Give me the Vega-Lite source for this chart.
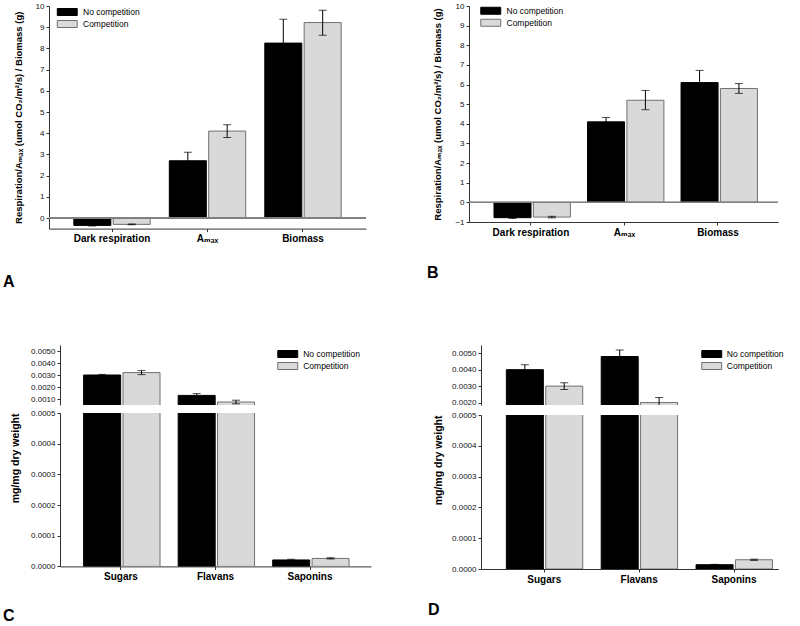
{
  "$schema": "https://vega.github.io/schema/vega-lite/v6.json",
  "padding": {"left": 3, "top": 2, "right": 5, "bottom": 5},
  "datasets": {
    "A": [
      {"cat": "Dark respiration", "group": "No competition", "value": -0.35, "lo": -0.38, "hi": -0.32},
      {"cat": "Dark respiration", "group": "Competition", "value": -0.3, "lo": -0.32, "hi": -0.28},
      {"cat": "Aₘₐₓ", "group": "No competition", "value": 2.7, "lo": 2.3, "hi": 3.1},
      {"cat": "Aₘₐₓ", "group": "Competition", "value": 4.1, "lo": 3.8, "hi": 4.4},
      {"cat": "Biomass", "group": "No competition", "value": 8.25, "lo": 7.13, "hi": 9.37},
      {"cat": "Biomass", "group": "Competition", "value": 9.22, "lo": 8.62, "hi": 9.8}
    ],
    "B": [
      {"cat": "Dark respiration", "group": "No competition", "value": -0.78, "lo": -0.82, "hi": -0.74},
      {"cat": "Dark respiration", "group": "Competition", "value": -0.75, "lo": -0.79, "hi": -0.71},
      {"cat": "Aₘₐₓ", "group": "No competition", "value": 4.1, "lo": 3.88, "hi": 4.32},
      {"cat": "Aₘₐₓ", "group": "Competition", "value": 5.2, "lo": 4.72, "hi": 5.7},
      {"cat": "Biomass", "group": "No competition", "value": 6.1, "lo": 5.48, "hi": 6.72},
      {"cat": "Biomass", "group": "Competition", "value": 5.8, "lo": 5.55, "hi": 6.05}
    ],
    "C": [
      {"cat": "Sugars", "group": "No competition", "value": 0.003, "lo": 0.00295, "hi": 0.00305},
      {"cat": "Sugars", "group": "Competition", "value": 0.0032, "lo": 0.00303, "hi": 0.00337},
      {"cat": "Flavans", "group": "No competition", "value": 0.0013, "lo": 0.00115, "hi": 0.00145},
      {"cat": "Flavans", "group": "Competition", "value": 0.00075, "lo": 0.0006, "hi": 0.0009},
      {"cat": "Saponins", "group": "No competition", "value": 0.000021, "lo": 0.000019, "hi": 0.000023},
      {"cat": "Saponins", "group": "Competition", "value": 0.000026, "lo": 0.000024, "hi": 0.000028}
    ],
    "D": [
      {"cat": "Sugars", "group": "No competition", "value": 0.004, "lo": 0.0037, "hi": 0.0043},
      {"cat": "Sugars", "group": "Competition", "value": 0.003, "lo": 0.0028, "hi": 0.0032},
      {"cat": "Flavans", "group": "No competition", "value": 0.0048, "lo": 0.0044, "hi": 0.0052},
      {"cat": "Flavans", "group": "Competition", "value": 0.002, "lo": 0.0017, "hi": 0.0023},
      {"cat": "Saponins", "group": "No competition", "value": 0.000014, "lo": 0.000013, "hi": 0.000015},
      {"cat": "Saponins", "group": "Competition", "value": 0.00003, "lo": 0.000028, "hi": 0.000032}
    ]
  },
  "columns": 1,
  "spacing": 52,
  "resolve": {"scale": {"fill": "independent", "stroke": "independent"}, "legend": {"fill": "independent", "stroke": "independent"}},
  "concat": [
    {
      "spacing": 60,
      "resolve": {"scale": {"fill": "independent", "stroke": "independent"}, "legend": {"fill": "independent", "stroke": "independent"}},
      "hconcat": [
        {
          "width": 317, "height": 222.6,
          "data": {"name": "A"},
          "title": {"text": "A", "orient": "bottom", "anchor": "start", "frame": "group", "align": "left", "dx": -46, "offset": 30, "fontSize": 16, "fontWeight": "bold", "color": "#000"},
          "layer": [
            {"mark": {"type": "bar", "strokeWidth": 1, "clip": true},
             "encoding": {
               "x": {"field": "cat", "type": "nominal", "sort": null, "title": null, "scale": {"paddingInner": 0.2, "paddingOuter": 0.26, "align": 0.5}, "axis": {"labelAngle": 0, "labelFontSize": 10, "labelFontWeight": "bold", "labelColor": "#000", "tickSize": 3, "labelPadding": 2}},
               "xOffset": {"field": "group", "type": "nominal", "sort": ["No competition", "Competition"], "scale": {"paddingInner": 0.06, "paddingOuter": 0}},
               "y": {"field": "value", "type": "quantitative", "scale": {"domain": [-0.5, 10], "nice": false, "zero": false}, "axis": {"values": [0,1,2,3,4,5,6,7,8,9,10], "format": "d", "tickCount": 30, "labelOverlap": false, "title": "Respiration/Aₘₐₓ (umol CO₂/m²/s) / Biomass (g)", "titleFontSize": 9.5, "titleFontWeight": "bold", "titlePadding": 12, "labelFontSize": 8}},
               "y2": {"datum": 0},
               "fill": {"field": "group", "type": "nominal", "scale": {"domain": ["No competition", "Competition"], "range": ["#000000", "#d9d9d9"]}, "legend": {"orient": "none", "legendX": 14, "legendY": 1.75, "title": null, "symbolType": "M-2.85,-1H2.85V1H-2.85Z", "symbolSize": 49, "labelOffset": 11.5, "rowPadding": 0, "padding": 0}},
               "stroke": {"field": "group", "type": "nominal", "scale": {"domain": ["No competition", "Competition"], "range": ["#000000", "#707070"]}, "legend": {"orient": "none", "legendX": 14, "legendY": 1.75, "title": null, "symbolType": "M-2.85,-1H2.85V1H-2.85Z", "symbolSize": 49, "labelOffset": 11.5, "rowPadding": 0, "padding": 0}}
             }},
            {"mark": {"type": "rule", "color": "#000", "strokeWidth": 1, "clip": true},
             "encoding": {
               "x": {"field": "cat", "type": "nominal", "sort": null},
               "xOffset": {"field": "group", "type": "nominal", "sort": ["No competition", "Competition"]},
               "y": {"field": "lo", "type": "quantitative"}, "y2": {"field": "hi"}}},
            {"mark": {"type": "tick", "color": "#000", "size": 8, "thickness": 1, "clip": true},
             "encoding": {
               "x": {"field": "cat", "type": "nominal", "sort": null},
               "xOffset": {"field": "group", "type": "nominal", "sort": ["No competition", "Competition"]},
               "y": {"field": "hi", "type": "quantitative"}}},
            {"mark": {"type": "tick", "color": "#000", "size": 8, "thickness": 1, "clip": true},
             "encoding": {
               "x": {"field": "cat", "type": "nominal", "sort": null},
               "xOffset": {"field": "group", "type": "nominal", "sort": ["No competition", "Competition"]},
               "y": {"field": "lo", "type": "quantitative"}}},
            {"mark": {"type": "rule", "color": "#808080", "strokeWidth": 1}, "encoding": {"y": {"datum": 0}}}
          ]
        },
        {
          "width": 309, "height": 216,
          "data": {"name": "B"},
          "title": {"text": "B", "orient": "bottom", "anchor": "start", "frame": "group", "align": "left", "dx": -42, "offset": 28, "fontSize": 16, "fontWeight": "bold", "color": "#000"},
          "layer": [
            {"mark": {"type": "bar", "strokeWidth": 1, "clip": true},
             "encoding": {
               "x": {"field": "cat", "type": "nominal", "sort": null, "title": null, "scale": {"paddingInner": 0.21, "paddingOuter": 0.257, "align": 0.52}, "axis": {"labelAngle": 0, "labelFontSize": 10, "labelFontWeight": "bold", "labelColor": "#000", "tickSize": 3, "labelPadding": 2}},
               "xOffset": {"field": "group", "type": "nominal", "sort": ["No competition", "Competition"], "scale": {"paddingInner": 0.06, "paddingOuter": 0}},
               "y": {"field": "value", "type": "quantitative", "scale": {"domain": [-1, 10], "nice": false, "zero": false}, "axis": {"values": [-1,0,1,2,3,4,5,6,7,8,9,10], "format": "d", "tickCount": 30, "labelOverlap": false, "title": "Respiration/Aₘₐₓ (umol CO₂/m²/s) / Biomass (g)", "titleFontSize": 9.5, "titleFontWeight": "bold", "titlePadding": 12, "labelFontSize": 8}},
               "y2": {"datum": 0},
               "fill": {"field": "group", "type": "nominal", "scale": {"domain": ["No competition", "Competition"], "range": ["#000000", "#d9d9d9"]}, "legend": {"orient": "none", "legendX": 17.5, "legendY": 0.5, "title": null, "symbolType": "M-2.85,-1H2.85V1H-2.85Z", "symbolSize": 49, "labelOffset": 11.5, "rowPadding": 0, "padding": 0}},
               "stroke": {"field": "group", "type": "nominal", "scale": {"domain": ["No competition", "Competition"], "range": ["#000000", "#707070"]}, "legend": {"orient": "none", "legendX": 17.5, "legendY": 0.5, "title": null, "symbolType": "M-2.85,-1H2.85V1H-2.85Z", "symbolSize": 49, "labelOffset": 11.5, "rowPadding": 0, "padding": 0}}
             }},
            {"mark": {"type": "rule", "color": "#000", "strokeWidth": 1, "clip": true},
             "encoding": {
               "x": {"field": "cat", "type": "nominal", "sort": null},
               "xOffset": {"field": "group", "type": "nominal", "sort": ["No competition", "Competition"]},
               "y": {"field": "lo", "type": "quantitative"}, "y2": {"field": "hi"}}},
            {"mark": {"type": "tick", "color": "#000", "size": 8, "thickness": 1, "clip": true},
             "encoding": {
               "x": {"field": "cat", "type": "nominal", "sort": null},
               "xOffset": {"field": "group", "type": "nominal", "sort": ["No competition", "Competition"]},
               "y": {"field": "hi", "type": "quantitative"}}},
            {"mark": {"type": "tick", "color": "#000", "size": 8, "thickness": 1, "clip": true},
             "encoding": {
               "x": {"field": "cat", "type": "nominal", "sort": null},
               "xOffset": {"field": "group", "type": "nominal", "sort": ["No competition", "Competition"]},
               "y": {"field": "lo", "type": "quantitative"}}},
            {"mark": {"type": "rule", "color": "#808080", "strokeWidth": 1}, "encoding": {"y": {"datum": 0}}}
          ]
        }
      ]
    },
    {
      "bounds": "flush",
      "spacing": 0,
      "resolve": {"scale": {"fill": "independent", "stroke": "independent"}, "legend": {"fill": "independent", "stroke": "independent"}},
      "hconcat": [
        {"width": 11, "height": 1, "data": {"values": [{"k": 1}]}, "mark": {"type": "point", "opacity": 0}, "encoding": {}},
        {
          "spacing": 57,
          "resolve": {"scale": {"fill": "independent", "stroke": "independent"}, "legend": {"fill": "independent", "stroke": "independent"}},
          "hconcat": [
            {
              "spacing": 4,
              "resolve": {"scale": {"fill": "independent", "stroke": "independent"}, "legend": {"fill": "independent", "stroke": "independent"}},
              "vconcat": [
                {
                  "width": 311, "height": 60,
                  "data": {"name": "C"},
                  "layer": [
                    {"mark": {"type": "bar", "strokeWidth": 1, "clip": true},
                     "encoding": {
                       "x": {"field": "cat", "type": "nominal", "sort": null, "title": null, "scale": {"paddingInner": 0.21, "paddingOuter": 0.25, "align": 0.5}, "axis": null},
                       "xOffset": {"field": "group", "type": "nominal", "sort": ["No competition", "Competition"], "scale": {"paddingInner": 0.06, "paddingOuter": 0}},
                       "y": {"field": "value", "type": "quantitative", "scale": {"domain": [0.0005, 0.0055], "nice": false, "zero": false}, "axis": {"values": [0.001, 0.002, 0.003, 0.004, 0.005], "tickCount": 30, "labelOverlap": false, "format": ".4f", "title": null, "labelFontSize": 8}},
                       "y2": {"datum": 0},
                       "fill": {"field": "group", "type": "nominal", "scale": {"domain": ["No competition", "Competition"], "range": ["#000000", "#d9d9d9"]}, "legend": {"orient": "none", "legendX": 223.5, "legendY": 4.75, "title": null, "symbolType": "M-2.85,-1H2.85V1H-2.85Z", "symbolSize": 49, "labelOffset": 11.2, "rowPadding": 0, "padding": 0}},
                       "stroke": {"field": "group", "type": "nominal", "scale": {"domain": ["No competition", "Competition"], "range": ["#000000", "#707070"]}, "legend": {"orient": "none", "legendX": 223.5, "legendY": 4.75, "title": null, "symbolType": "M-2.85,-1H2.85V1H-2.85Z", "symbolSize": 49, "labelOffset": 11.2, "rowPadding": 0, "padding": 0}}
                     }},
                    {"mark": {"type": "rule", "color": "#000", "strokeWidth": 1, "clip": true},
                     "encoding": {
                       "x": {"field": "cat", "type": "nominal", "sort": null},
                       "xOffset": {"field": "group", "type": "nominal", "sort": ["No competition", "Competition"]},
                       "y": {"field": "lo", "type": "quantitative"}, "y2": {"field": "hi"}}},
                    {"mark": {"type": "tick", "color": "#000", "size": 8, "thickness": 1, "clip": true},
                     "encoding": {
                       "x": {"field": "cat", "type": "nominal", "sort": null},
                       "xOffset": {"field": "group", "type": "nominal", "sort": ["No competition", "Competition"]},
                       "y": {"field": "hi", "type": "quantitative"}}},
                    {"mark": {"type": "tick", "color": "#000", "size": 8, "thickness": 1, "clip": true},
                     "encoding": {
                       "x": {"field": "cat", "type": "nominal", "sort": null},
                       "xOffset": {"field": "group", "type": "nominal", "sort": ["No competition", "Competition"]},
                       "y": {"field": "lo", "type": "quantitative"}}}
                  ]
                },
                {
                  "width": 311, "height": 153.4,
                  "data": {"name": "C"},
                  "title": {"text": "C", "orient": "bottom", "anchor": "start", "frame": "group", "align": "left", "dx": -57, "offset": 27, "fontSize": 16, "fontWeight": "bold", "color": "#000"},
                  "layer": [
                    {"mark": {"type": "bar", "strokeWidth": 1, "clip": true},
                     "encoding": {
                       "x": {"field": "cat", "type": "nominal", "sort": null, "title": null, "scale": {"paddingInner": 0.21, "paddingOuter": 0.25, "align": 0.5}, "axis": {"labelAngle": 0, "labelFontSize": 10, "labelFontWeight": "bold", "labelColor": "#000", "tickSize": 3, "labelPadding": 2}},
                       "xOffset": {"field": "group", "type": "nominal", "sort": ["No competition", "Competition"], "scale": {"paddingInner": 0.06, "paddingOuter": 0}},
                       "y": {"field": "value", "type": "quantitative", "scale": {"domain": [0, 0.0005], "nice": false, "zero": false}, "axis": {"values": [0, 0.0001, 0.0002, 0.0003, 0.0004, 0.0005], "tickCount": 30, "labelOverlap": false, "format": ".4f", "title": "mg/mg dry weight", "titleAnchor": "end", "titleFontSize": 10.5, "titleFontWeight": "bold", "titlePadding": 10, "labelFontSize": 8}},
                       "y2": {"datum": 0},
                       "fill": {"field": "group", "type": "nominal", "scale": {"domain": ["No competition", "Competition"], "range": ["#000000", "#d9d9d9"]}, "legend": null},
                       "stroke": {"field": "group", "type": "nominal", "scale": {"domain": ["No competition", "Competition"], "range": ["#000000", "#707070"]}, "legend": null}
                     }},
                    {"mark": {"type": "rule", "color": "#000", "strokeWidth": 1, "clip": true},
                     "encoding": {
                       "x": {"field": "cat", "type": "nominal", "sort": null},
                       "xOffset": {"field": "group", "type": "nominal", "sort": ["No competition", "Competition"]},
                       "y": {"field": "lo", "type": "quantitative"}, "y2": {"field": "hi"}}},
                    {"mark": {"type": "tick", "color": "#000", "size": 8, "thickness": 1, "clip": true},
                     "encoding": {
                       "x": {"field": "cat", "type": "nominal", "sort": null},
                       "xOffset": {"field": "group", "type": "nominal", "sort": ["No competition", "Competition"]},
                       "y": {"field": "hi", "type": "quantitative"}}},
                    {"mark": {"type": "tick", "color": "#000", "size": 8, "thickness": 1, "clip": true},
                     "encoding": {
                       "x": {"field": "cat", "type": "nominal", "sort": null},
                       "xOffset": {"field": "group", "type": "nominal", "sort": ["No competition", "Competition"]},
                       "y": {"field": "lo", "type": "quantitative"}}}
                  ]
                }
              ]
            },
            {
              "spacing": 4,
              "resolve": {"scale": {"fill": "independent", "stroke": "independent"}, "legend": {"fill": "independent", "stroke": "independent"}},
              "vconcat": [
                {
                  "width": 297.3, "height": 60,
                  "data": {"name": "D"},
                  "layer": [
                    {"mark": {"type": "bar", "strokeWidth": 1, "clip": true},
                     "encoding": {
                       "x": {"field": "cat", "type": "nominal", "sort": null, "title": null, "scale": {"paddingInner": 0.2, "paddingOuter": 0.167, "align": 0.8}, "axis": null},
                       "xOffset": {"field": "group", "type": "nominal", "sort": ["No competition", "Competition"], "scale": {"paddingInner": 0.06, "paddingOuter": 0}},
                       "y": {"field": "value", "type": "quantitative", "scale": {"domain": [0.00185, 0.0055], "nice": false, "zero": false}, "axis": {"values": [0.002, 0.003, 0.004, 0.005], "tickCount": 30, "labelOverlap": false, "format": ".4f", "title": null, "labelFontSize": 8}},
                       "y2": {"datum": 0},
                       "fill": {"field": "group", "type": "nominal", "scale": {"domain": ["No competition", "Competition"], "range": ["#000000", "#d9d9d9"]}, "legend": {"orient": "none", "legendX": 226.5, "legendY": 4.75, "title": null, "symbolType": "M-2.85,-1H2.85V1H-2.85Z", "symbolSize": 49, "labelOffset": 10.8, "rowPadding": 0, "padding": 0}},
                       "stroke": {"field": "group", "type": "nominal", "scale": {"domain": ["No competition", "Competition"], "range": ["#000000", "#707070"]}, "legend": {"orient": "none", "legendX": 226.5, "legendY": 4.75, "title": null, "symbolType": "M-2.85,-1H2.85V1H-2.85Z", "symbolSize": 49, "labelOffset": 10.8, "rowPadding": 0, "padding": 0}}
                     }},
                    {"mark": {"type": "rule", "color": "#000", "strokeWidth": 1, "clip": true},
                     "encoding": {
                       "x": {"field": "cat", "type": "nominal", "sort": null},
                       "xOffset": {"field": "group", "type": "nominal", "sort": ["No competition", "Competition"]},
                       "y": {"field": "lo", "type": "quantitative"}, "y2": {"field": "hi"}}},
                    {"mark": {"type": "tick", "color": "#000", "size": 8, "thickness": 1, "clip": true},
                     "encoding": {
                       "x": {"field": "cat", "type": "nominal", "sort": null},
                       "xOffset": {"field": "group", "type": "nominal", "sort": ["No competition", "Competition"]},
                       "y": {"field": "hi", "type": "quantitative"}}},
                    {"mark": {"type": "tick", "color": "#000", "size": 8, "thickness": 1, "clip": true},
                     "encoding": {
                       "x": {"field": "cat", "type": "nominal", "sort": null},
                       "xOffset": {"field": "group", "type": "nominal", "sort": ["No competition", "Competition"]},
                       "y": {"field": "lo", "type": "quantitative"}}}
                  ]
                },
                {
                  "width": 297.3, "height": 154,
                  "data": {"name": "D"},
                  "title": {"text": "D", "orient": "bottom", "anchor": "start", "frame": "group", "align": "left", "dx": -53, "offset": 18, "fontSize": 16, "fontWeight": "bold", "color": "#000"},
                  "layer": [
                    {"mark": {"type": "bar", "strokeWidth": 1, "clip": true},
                     "encoding": {
                       "x": {"field": "cat", "type": "nominal", "sort": null, "title": null, "scale": {"paddingInner": 0.2, "paddingOuter": 0.167, "align": 0.8}, "axis": {"labelAngle": 0, "labelFontSize": 10, "labelFontWeight": "bold", "labelColor": "#000", "tickSize": 3, "labelPadding": 2}},
                       "xOffset": {"field": "group", "type": "nominal", "sort": ["No competition", "Competition"], "scale": {"paddingInner": 0.06, "paddingOuter": 0}},
                       "y": {"field": "value", "type": "quantitative", "scale": {"domain": [0, 0.0005], "nice": false, "zero": false}, "axis": {"values": [0, 0.0001, 0.0002, 0.0003, 0.0004, 0.0005], "tickCount": 30, "labelOverlap": false, "format": ".4f", "title": "mg/mg dry weight", "titleAnchor": "end", "titleFontSize": 10.5, "titleFontWeight": "bold", "titlePadding": 8, "labelFontSize": 8}},
                       "y2": {"datum": 0},
                       "fill": {"field": "group", "type": "nominal", "scale": {"domain": ["No competition", "Competition"], "range": ["#000000", "#d9d9d9"]}, "legend": null},
                       "stroke": {"field": "group", "type": "nominal", "scale": {"domain": ["No competition", "Competition"], "range": ["#000000", "#707070"]}, "legend": null}
                     }},
                    {"mark": {"type": "rule", "color": "#000", "strokeWidth": 1, "clip": true},
                     "encoding": {
                       "x": {"field": "cat", "type": "nominal", "sort": null},
                       "xOffset": {"field": "group", "type": "nominal", "sort": ["No competition", "Competition"]},
                       "y": {"field": "lo", "type": "quantitative"}, "y2": {"field": "hi"}}},
                    {"mark": {"type": "tick", "color": "#000", "size": 8, "thickness": 1, "clip": true},
                     "encoding": {
                       "x": {"field": "cat", "type": "nominal", "sort": null},
                       "xOffset": {"field": "group", "type": "nominal", "sort": ["No competition", "Competition"]},
                       "y": {"field": "hi", "type": "quantitative"}}},
                    {"mark": {"type": "tick", "color": "#000", "size": 8, "thickness": 1, "clip": true},
                     "encoding": {
                       "x": {"field": "cat", "type": "nominal", "sort": null},
                       "xOffset": {"field": "group", "type": "nominal", "sort": ["No competition", "Competition"]},
                       "y": {"field": "lo", "type": "quantitative"}}}
                  ]
                }
              ]
            }
          ]
        }
      ]
    }
  ],
  "config": {
    "font": "Liberation Sans, DejaVu Sans",
    "view": {"stroke": null},
    "axis": {"labelFont": "Liberation Sans, DejaVu Sans", "titleFont": "Liberation Sans, DejaVu Sans", "grid": false, "domainColor": "#333333", "tickColor": "#333333", "labelColor": "#111111", "titleColor": "#000000", "tickSize": 3, "labelPadding": 2},
    "legend": {"labelFont": "Liberation Sans", "labelFontSize": 8.5, "labelColor": "#000000", "symbolStrokeWidth": 1, "symbolOpacity": 1},
    "title": {"font": "Liberation Sans"}
  }
}
